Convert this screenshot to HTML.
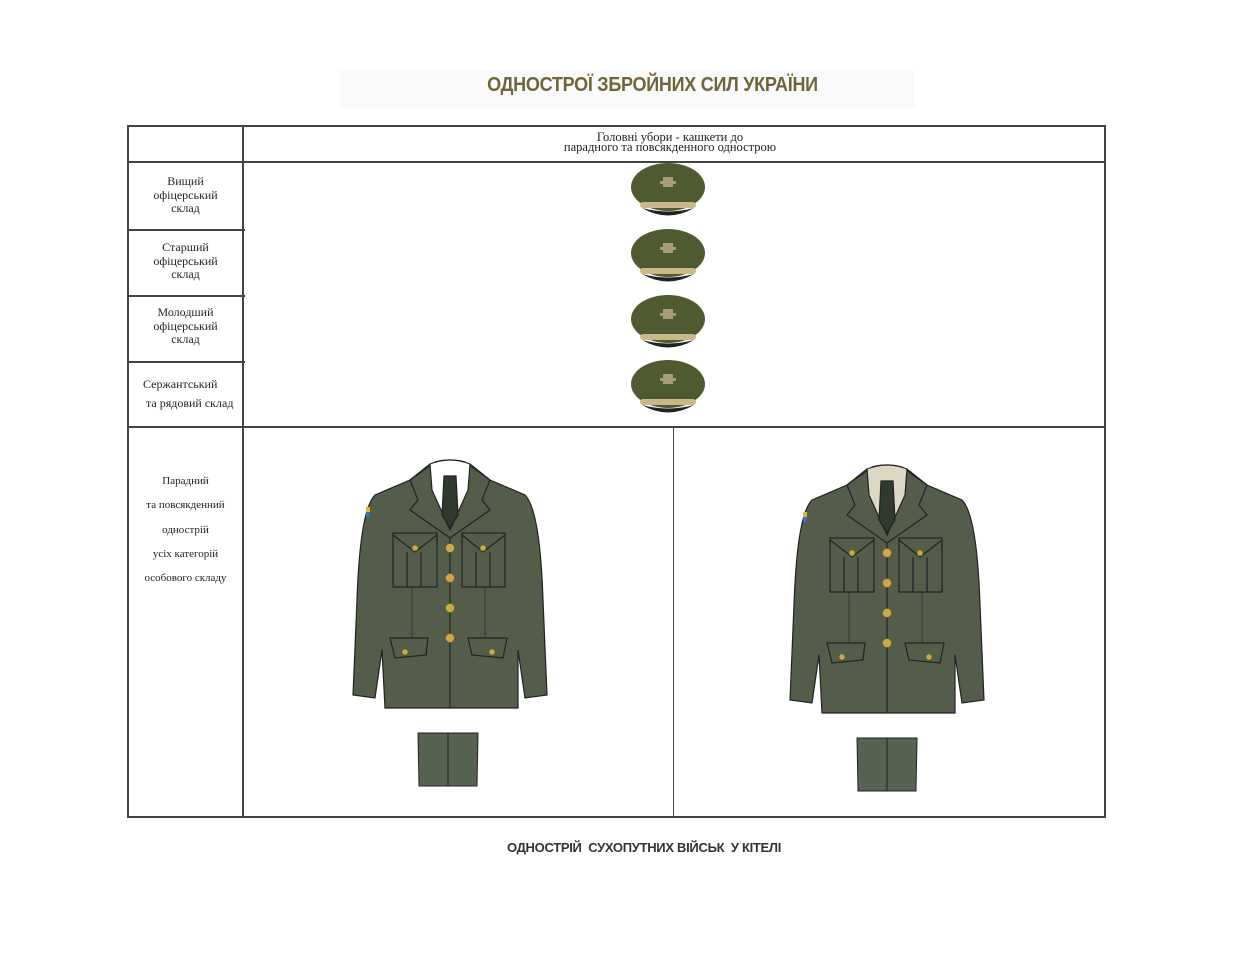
<!DOCTYPE html>
<html><head><meta charset="utf-8"><style>
body{margin:0;background:#fff;}
.wrap{position:relative;width:1244px;height:960px;overflow:hidden;background:#fff;font-family:"Liberation Serif",serif;}
.t{position:absolute;text-align:center;color:#222;font-size:12px;line-height:13.5px;}
.l{position:absolute;background:#444;}
</style></head><body><div class="wrap">
<div style="position:absolute;left:340px;top:70px;width:575px;height:38px;background:#fafafa"></div>
<div style="position:absolute;left:340px;top:74px;width:625px;text-align:center;font-family:'Liberation Sans',sans-serif;font-weight:bold;font-size:20px;color:#6e6638;letter-spacing:-0.3px;transform:scaleX(0.9)">ОДНОСТРОЇ ЗБРОЙНИХ СИЛ УКРАЇНИ</div>
<div class="l" style="left:127px;top:125px;width:979px;height:2px"></div>
<div class="l" style="left:127px;top:125px;width:2px;height:693px"></div>
<div class="l" style="left:1104px;top:125px;width:2px;height:693px"></div>
<div class="l" style="left:127px;top:816px;width:979px;height:2px"></div>
<div class="l" style="left:242px;top:125px;width:2px;height:693px"></div>
<div class="l" style="left:127px;top:161px;width:979px;height:2px"></div>
<div class="l" style="left:127px;top:229px;width:118px;height:2px"></div>
<div class="l" style="left:127px;top:295px;width:118px;height:2px"></div>
<div class="l" style="left:127px;top:361px;width:118px;height:2px"></div>
<div class="l" style="left:127px;top:426px;width:979px;height:2px"></div>
<div class="l" style="left:673px;top:426px;width:1px;height:391px"></div>
<div class="t" style="left:480px;top:132px;width:380px;line-height:10px;font-size:12.5px">Головні убори - кашкети до<br>парадного та повсякденного однострою</div>
<div class="t" style="left:129px;top:175px;width:113px">Вищий<br>офіцерський<br>склад</div>
<div class="t" style="left:129px;top:241px;width:113px">Старший<br>офіцерський<br>склад</div>
<div class="t" style="left:129px;top:306px;width:113px">Молодший<br>офіцерський<br>склад</div>
<div class="t" style="left:129px;top:375px;width:113px;line-height:19px;text-align:left;padding-left:14px;box-sizing:border-box">Сержантський<br>&nbsp;та рядовий склад</div>
<div class="t" style="left:129px;top:469px;width:113px;font-size:11px;line-height:24.3px">Парадний<br>та повсякденний<br>однострій<br>усіх категорій<br>особового складу</div>
<svg width="1244" height="960" style="position:absolute;left:0;top:0">
<defs>
<g id="cap">
<ellipse cx="0" cy="0" rx="37" ry="24" fill="#4f5a30"/>
<rect x="-28" y="15" width="56" height="6" rx="3" fill="#c9b98a"/>
<path d="M-26 21 Q0 36 26 21 Q0 28 -26 21Z" fill="#222"/>
<path d="M-5 -10 h10 v10 h-10z M-8 -6 h16 v3 h-16z" fill="#a89a7a"/>
</g>
<g id="jk" stroke="#222" stroke-width="1.2">
<path d="M95,12 Q110,8 125,12 L150,30 L185,45 Q200,60 203,150 L207,245 L185,248 L178,200 L178,258 L45,258 L42,200 L35,248 L13,245 L17,150 Q20,60 35,45 L70,30 Z" fill="#535d4a"/>
<path d="M90,14 Q110,6 130,14 L128,40 L110,80 L92,40Z" fill="var(--sh)"/>
<path d="M104,26 L116,26 L118,65 L110,78 L102,65Z" fill="#2f3a2c"/>
<path d="M90,14 L70,30 L78,50 L70,60 L110,88 M130,14 L150,30 L142,50 L150,60 L110,88" fill="none"/>
<line x1="110" y1="88" x2="110" y2="258"/>
<rect x="53" y="83" width="44" height="54" fill="none"/><path d="M53,85 L75,102 L97,85 M67,102 V137 M81,102 V137" fill="none"/>
<rect x="122" y="83" width="43" height="54" fill="none"/><path d="M122,85 L143,102 L165,85 M136,102 V137 M150,102 V137" fill="none"/>
<path d="M50,188 H88 L86,205 L55,208Z M128,188 H167 L163,208 L132,205Z" fill="none"/>
<path d="M72,137 V188 M145,137 V188" fill="none" stroke-width="0.6"/>
</g>
<g id="bt" fill="#c9a94a" stroke="#6b5a20" stroke-width="0.6">
<circle cx="110" cy="98" r="4.5"/><circle cx="110" cy="128" r="4.5"/><circle cx="110" cy="158" r="4.5"/><circle cx="110" cy="188" r="4.5"/>
<circle cx="75" cy="98" r="3"/><circle cx="143" cy="98" r="3"/><circle cx="65" cy="202" r="3"/><circle cx="152" cy="202" r="3"/>
<rect x="26" y="57" width="4" height="10" fill="#e2b62e" stroke="none"/><rect x="26" y="62" width="4" height="5" fill="#3a6fc0" stroke="none"/>
</g>
</defs>
<use href="#cap" x="668" y="187"/>
<use href="#cap" x="668" y="253"/>
<use href="#cap" x="668" y="319"/>
<use href="#cap" x="668" y="384"/>
<g transform="translate(340,450)" style="--sh:#fff">
<use href="#jk"/><use href="#bt"/>
<path d="M78,283 H138 L137,336 H79Z M108,283 V336" fill="#566350" stroke="#222"/>
</g>
<g transform="translate(777,455)" style="--sh:#ddd8c4">
<use href="#jk"/><use href="#bt"/>
<path d="M80,283 H140 L139,336 H81Z M110,283 V336" fill="#566350" stroke="#222"/>
</g>
</svg>
<div style="position:absolute;left:340px;top:840px;width:608px;text-align:center;font-family:'Liberation Sans',sans-serif;font-weight:bold;font-size:13px;color:#333;letter-spacing:-0.3px">ОДНОСТРІЙ&nbsp; СУХОПУТНИХ ВІЙСЬК&nbsp; У КІТЕЛІ</div>
</div></body></html>
